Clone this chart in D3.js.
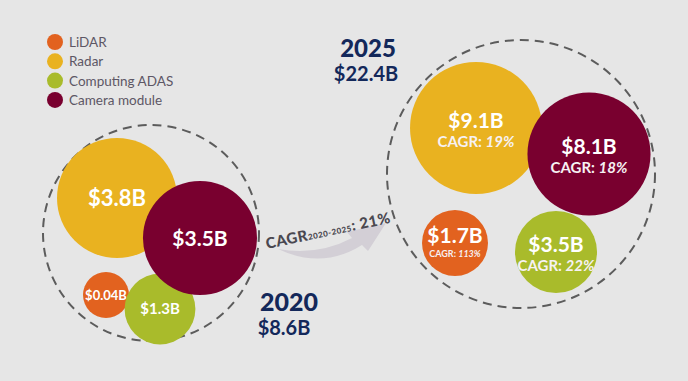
<!DOCTYPE html>
<html>
<head>
<meta charset="utf-8">
<script src="https://cdn.jsdelivr.net/npm/d3@7/dist/d3.min.js"></script>
<style>
  body { margin: 0; background: #e6e6e6; }
  svg { display: block; font-family: Lato, "Open Sans", sans-serif; }
</style>
</head>
<body>
<svg id="chart" width="688" height="381"></svg>
<script>
// data
var segments = ["LiDAR", "Radar", "Computing ADAS", "Camera module"];
var years = ["2020", "2025"];
var totals = ["$8.6B", "$22.4B"];
var values2020 = [0.04, 3.8, 1.3, 3.5];
var values2025 = [1.7, 9.1, 3.5, 8.1];
var cagr2025 = ["113%", "19%", "22%", "18%"];
var overallCagr = "21%";
var cagrPeriod = "2020-2025";

var colors = ["#e2621f", "#e9b220", "#a9bb2b", "#79002f"];
var navy = "#13285a";

var svg = d3.select("#chart");
svg.append("rect").attr("width", 688).attr("height", 381).attr("fill", "#e6e6e6");

// legend
var legend = svg.append("g").attr("transform", "translate(55,42)");
segments.forEach(function (s, i) {
    var g = legend.append("g").attr("transform", "translate(0," + (i * 19.3) + ")");
    g.append("circle").attr("r", 8).attr("fill", colors[i]);
    g.append("text").attr("x", 14).attr("y", 5)
        .attr("font-size", 13.5).attr("fill", "#5d5765").text(s);
});

// panel layout (offsets from the cluster centre, label sizes)
var panels = [
    {
        values: values2020, cagr: null,
        cx: 151, cy: 233, r: 108, rRange: [23, 60],
        offs: [[-45, 62], [-34, -35], [9, 76], [49, 5]],
        font: [13, 22, 15, 21]
    },
    {
        values: values2025, cagr: cagr2025,
        cx: 521, cy: 174, r: 134, rRange: [33, 66],
        offs: [[-66, 69], [-45, -46], [35, 78], [68, -20]],
        font: [21, 21, 21, 21], sub: [9, 15, 15, 15]
    }
];

panels.forEach(function (p) {
    var rScale = d3.scaleLinear().domain(d3.extent(p.values)).range(p.rRange);
    var g = svg.append("g").attr("transform", "translate(" + p.cx + "," + p.cy + ")");
    g.append("circle").attr("r", p.r).attr("fill", "none")
        .attr("stroke", "#5c5c5c").attr("stroke-width", 2)
        .attr("stroke-dasharray", "9,6");
    // draw order: radar, lidar, computing, camera on top
    var order = [1, 0, 2, 3];
    order.forEach(function (i) {
        var b = g.append("g").attr("transform", "translate(" + p.offs[i][0] + "," + p.offs[i][1] + ")");
        b.append("circle").attr("r", rScale(p.values[i])).attr("fill", colors[i]);
        var label = "$" + (p.values[i] < 0.1 ? p.values[i].toFixed(2) : p.values[i].toFixed(1)) + "B";
        var f = p.font[i];
        if (p.cagr) {
            b.append("text").attr("text-anchor", "middle").attr("y", 0)
                .attr("font-size", f).attr("font-weight", 700).attr("fill", "#fff")
                .text(label);
            var t = b.append("text").attr("text-anchor", "middle").attr("y", p.sub[i] < 10 ? 14 : 19)
                .attr("font-size", p.sub[i]).attr("font-weight", 700).attr("fill", "#f6f1f3");
            t.append("tspan").text("CAGR: ");
            t.append("tspan").attr("font-style", "italic").text(p.cagr[i]);
        } else {
            b.append("text").attr("text-anchor", "middle").attr("y", f * 0.36)
                .attr("font-size", f).attr("font-weight", 700).attr("fill", "#fff")
                .text(label);
        }
    });
});

// year titles
svg.append("text").attr("x", 368).attr("y", 57).attr("text-anchor", "middle")
    .attr("font-size", 24).attr("font-weight", 900).attr("fill", navy).text(years[1]);
svg.append("text").attr("x", 366).attr("y", 81).attr("text-anchor", "middle")
    .attr("font-size", 20).attr("font-weight", 700).attr("fill", navy).text(totals[1]);
svg.append("text").attr("x", 289).attr("y", 311).attr("text-anchor", "middle")
    .attr("font-size", 25).attr("font-weight", 900).attr("fill", navy).text(years[0]);
svg.append("text").attr("x", 284).attr("y", 335).attr("text-anchor", "middle")
    .attr("font-size", 20).attr("font-weight", 700).attr("fill", navy).text(totals[0]);

// growth arrow
svg.append("path")
    .attr("d", "M278,249 Q318,256 352,238 L347,232 L386,223 L368,251 L362,245 Q322,270 278,249 Z")
    .attr("fill", "#d3cfd6");
var ct = svg.append("text").attr("transform", "translate(267,249) rotate(-12)")
    .attr("font-weight", 900).attr("fill", "#4a4850").attr("letter-spacing", 0.5);
ct.append("tspan").attr("font-size", 15).text("CAGR");
ct.append("tspan").attr("font-size", 8).text(cagrPeriod);
ct.append("tspan").attr("font-size", 15).text(": " + overallCagr);
</script>
</body>
</html>
